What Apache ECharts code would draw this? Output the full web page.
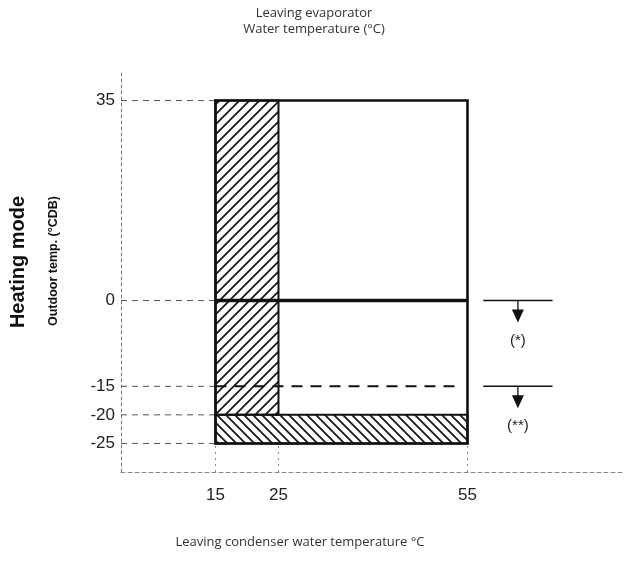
<!DOCTYPE html>
<html>
<head>
<meta charset="utf-8">
<script src="https://cdn.jsdelivr.net/npm/echarts@6/dist/echarts.min.js"></script>
<style>
  html, body { margin: 0; padding: 0; background: #fff; }
  #chart { width: 628px; height: 562px; }
</style>
</head>
<body>
<div id="chart"></div>
<script>
// Operating envelope in heating mode
const xTickValues = [15, 25, 55];
const yTickValues = [35, 0, -15, -20, -25];

// zones as [xFrom, xTo, yFrom, yTo]
const lowWaterZone = [15, 25, -20, 35];
const lowAirZone = [15, 55, -25, -20];
const envelope = [15, 55, -25, 35];

// limit lines as [xFrom, xTo, y]
const solidLimit = [15, 55, 0];
const dashedLimit = [15, 54, -15];

// side notes: levels and their labels, drawn between noteSpan
const noteLevels = [0, -15];
const noteLabels = ['(*)', '(**)'];
const noteSpan = [57.5, 68.5];

const AXIS_X = [0, 80];
const AXIS_Y = [-30, 40];

// diagonal hatch tiles
function hatchTile(size, rising) {
  const c = document.createElement('canvas');
  c.width = size; c.height = size;
  const g = c.getContext('2d');
  g.strokeStyle = '#151515';
  g.lineWidth = 1.7;
  g.beginPath();
  if (rising) {
    g.moveTo(-2, size + 2); g.lineTo(size + 2, -2);
    g.moveTo(-2, 2); g.lineTo(2, -2);
    g.moveTo(size - 2, size + 2); g.lineTo(size + 2, size - 2);
  } else {
    g.moveTo(-2, -2); g.lineTo(size + 2, size + 2);
    g.moveTo(size - 2, -2); g.lineTo(size + 2, 2);
    g.moveTo(-2, size - 2); g.lineTo(2, size + 2);
  }
  g.stroke();
  return c;
}
const fills = [
  { type: 'pattern', image: hatchTile(10, true), repeat: 'repeat' },
  { type: 'pattern', image: hatchTile(9, false), repeat: 'repeat' },
  'none'
];

const zoneData = [lowWaterZone.concat(0), lowAirZone.concat(1), envelope.concat(2)];
const limitData = [solidLimit.concat(0), dashedLimit.concat(1)];
const noteData = noteLevels.map((lv, i) => [noteSpan[0], noteSpan[1], lv, i]);

// guide lines from the axes to the envelope
const hGuideData = yTickValues.map(v => [AXIS_X[0], xTickValues[0], v]);
const vGuideData = xTickValues.map(v => [v, AXIS_Y[0], envelope[2]]);

function zoneItem(params, api) {
  const a = api.coord([api.value(0), api.value(3)]);
  const b = api.coord([api.value(1), api.value(2)]);
  const kind = api.value(4);
  return {
    type: 'rect',
    shape: { x: a[0], y: a[1], width: b[0] - a[0], height: b[1] - a[1] },
    style: { fill: fills[kind], stroke: '#111', lineWidth: kind === 2 ? 2.6 : 2 }
  };
}

function limitItem(params, api) {
  const a = api.coord([api.value(0), api.value(2)]);
  const b = api.coord([api.value(1), api.value(2)]);
  const dashed = api.value(3) === 1;
  return {
    type: 'line',
    shape: { x1: a[0], y1: a[1], x2: b[0], y2: b[1] },
    style: dashed
      ? { stroke: '#111', lineWidth: 2, lineDash: [11, 8] }
      : { stroke: '#111', lineWidth: 3.6 }
  };
}

function noteItem(params, api) {
  const y = api.value(2);
  const a = api.coord([api.value(0), y]);
  const b = api.coord([api.value(1), y]);
  const cx = (a[0] + b[0]) / 2;
  const cy = a[1];
  return {
    type: 'group',
    children: [
      { type: 'line', shape: { x1: a[0], y1: cy, x2: b[0], y2: cy }, style: { stroke: '#111', lineWidth: 1.5 } },
      { type: 'line', shape: { x1: cx, y1: cy, x2: cx, y2: cy + 10 }, style: { stroke: '#111', lineWidth: 1.3 } },
      { type: 'polygon', shape: { points: [[cx - 6, cy + 9], [cx + 6, cy + 9], [cx, cy + 22]] }, style: { fill: '#111' } },
      { type: 'text', style: { text: noteLabels[api.value(3)], x: cx, y: cy + 40, align: 'center', verticalAlign: 'middle', font: '15px "Liberation Sans"', fill: '#222' } }
    ]
  };
}

function guideItem(horizontal) {
  return function (params, api) {
    let a, b;
    if (horizontal) {
      a = api.coord([api.value(0), api.value(2)]);
      b = api.coord([api.value(1), api.value(2)]);
    } else {
      a = api.coord([api.value(0), api.value(1)]);
      b = api.coord([api.value(0), api.value(2)]);
    }
    return {
      type: 'line',
      shape: { x1: a[0], y1: a[1], x2: b[0], y2: b[1] },
      style: horizontal
        ? { stroke: '#555', lineWidth: 1, lineDash: [6, 5] }
        : { stroke: '#888', lineWidth: 1, lineDash: [2, 4] }
    };
  };
}

const chart = echarts.init(document.getElementById('chart'), null, { renderer: 'canvas' });
chart.setOption({
  animation: false,
  backgroundColor: '#fff',
  grid: { left: 121, right: 3, top: 72, bottom: 90, containLabel: false },
  xAxis: {
    type: 'value', min: AXIS_X[0], max: AXIS_X[1],
    axisLine: { show: true, onZero: false, lineStyle: { color: '#888', width: 1, type: [4, 3] } },
    axisTick: { show: false },
    splitLine: { show: false },
    axisLabel: {
      customValues: xTickValues, margin: 15,
      fontFamily: 'Liberation Sans', fontSize: 17, color: '#222'
    }
  },
  yAxis: {
    type: 'value', min: AXIS_Y[0], max: AXIS_Y[1],
    axisLine: { show: true, onZero: false, lineStyle: { color: '#777', width: 1, type: [3, 3] } },
    axisTick: { show: false },
    splitLine: { show: false },
    axisLabel: {
      customValues: yTickValues, margin: 6,
      fontFamily: 'Liberation Sans', fontSize: 17, color: '#222'
    }
  },
  graphic: [
    { type: 'text', x: 314, y: 5, style: { text: 'Leaving evaporator\nWater temperature (°C)', align: 'center', verticalAlign: 'top', lineHeight: 16, font: '13px "Open Sans"', fill: '#333' } },
    { type: 'text', x: 300, y: 542, style: { text: 'Leaving condenser water temperature °C', align: 'center', verticalAlign: 'middle', font: '13px "Open Sans"', fill: '#333' } },
    { type: 'text', x: 18, y: 262, rotation: Math.PI / 2, style: { text: 'Heating mode', align: 'center', verticalAlign: 'middle', font: 'bold 20px "Liberation Sans"', fill: '#111' } },
    { type: 'text', x: 54, y: 261, rotation: Math.PI / 2, style: { text: 'Outdoor temp. (°CDB)', align: 'center', verticalAlign: 'middle', font: 'bold 12.5px "Liberation Sans"', fill: '#111' } }
  ],
  series: [
    { type: 'custom', name: 'hGuides', renderItem: guideItem(true), data: hGuideData, encode: { x: [0, 1], y: 2 }, silent: true, clip: false },
    { type: 'custom', name: 'vGuides', renderItem: guideItem(false), data: vGuideData, encode: { x: 0, y: [1, 2] }, silent: true, clip: false },
    { type: 'custom', name: 'zones', renderItem: zoneItem, data: zoneData, encode: { x: [0, 1], y: [2, 3] }, silent: true },
    { type: 'custom', name: 'limits', renderItem: limitItem, data: limitData, encode: { x: [0, 1], y: 2 }, silent: true },
    { type: 'custom', name: 'notes', renderItem: noteItem, data: noteData, encode: { x: [0, 1], y: 2 }, silent: true }
  ]
});
</script>
</body>
</html>
